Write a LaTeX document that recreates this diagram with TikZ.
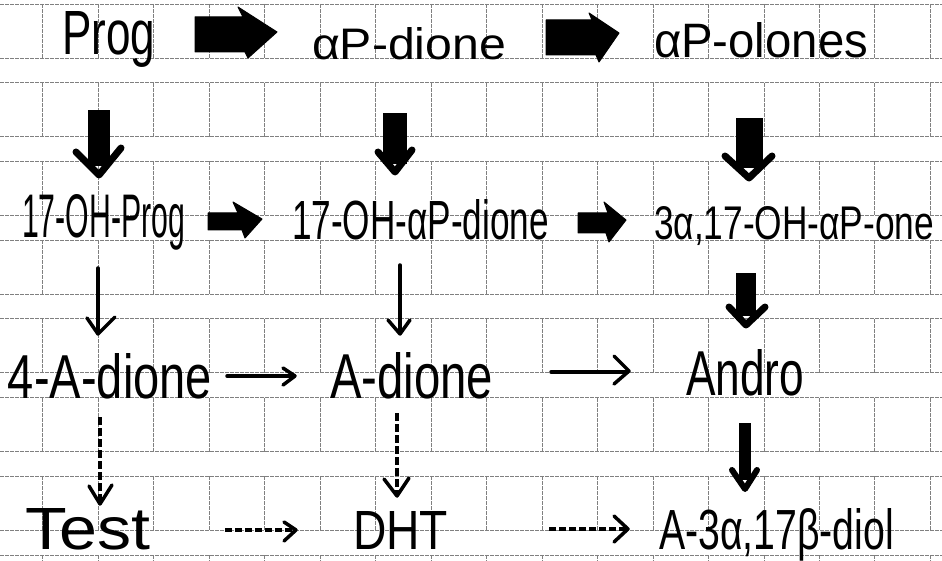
\documentclass[tikz,border=0pt]{standalone}
\usepackage{fontspec}
\usepackage{graphicx}
\setmainfont{Liberation Sans}
\usetikzlibrary{arrows.meta}
\newcommand\fitt[3]{\resizebox{#1pt}{#2pt}{#3}}
\begin{document}
\begin{tikzpicture}[x=1pt,y=-1pt,
  gridline/.style={draw=black!50, line width=0.9pt, dash pattern=on 4pt off 1pt},
  lbl/.style={anchor=base west, inner sep=0pt, outer sep=0pt, text=black},
  blk/.style={fill=black, draw=black, line width=1pt, line join=round},
  thk/.style={draw=black, line width=7pt, line cap=round, line join=round},
  thn/.style={draw=black, line width=3.5pt, line cap=round},
  dsh/.style={draw=black, line width=4pt, dash pattern=on 8pt off 3pt}]
\useasboundingbox (0,0) rectangle (942,561);
\clip (0,0) rectangle (942,561);
\fill[white] (0,0) rectangle (942,561);
% notebook grid
\foreach \k in {0,...,7} {
  \pgfmathsetmacro\ya{4+78.72*\k}
  \pgfmathsetmacro\yb{\ya+54}
  \draw[gridline] (0,\ya) -- (942,\ya);
  \draw[gridline] (0,\yb) -- (942,\yb);
  \foreach \j in {0,...,16} {
    \pgfmathsetmacro\xx{42.7+55.48*\j}
    \draw[gridline] (\xx,\ya) -- (\xx,\yb);
  }
}
% labels
\node[lbl] (prog) at (62,55) {\fitt{93}{43}{Prog}};
\node[lbl] (apd) at (312,60) {\fitt{194}{32}{αP-dione}};
\node[lbl] (apo) at (654,58) {\fitt{214}{35}{αP-olones}};
\node[lbl] (ohp) at (22,238) {\fitt{163}{43}{17-OH-Prog}};
\node[lbl] (ohd) at (292,240) {\fitt{257}{40}{17-OH-αP-dione}};
\node[lbl] (ohone) at (654,240) {\fitt{280}{33}{3α,17-OH-αP-one}};
\node[lbl] (fad) at (8,398) {\fitt{204}{45}{4-A-dione}};
\node[lbl] (ad) at (330,398) {\fitt{163}{46}{A-dione}};
\node[lbl] (andro) at (686,395) {\fitt{118}{46}{Andro}};
\node[lbl] (test) at (25,549) {\fitt{125}{41}{Test}};
\node[lbl] (dht) at (353,549) {\fitt{95}{38}{DHT}};
\node[lbl] (diol) at (659,549) {\fitt{235}{41}{A-3α,17β-diol}};
% block arrows (right)
\filldraw[blk] (195,17) -- (243,17) -- (238,7) -- (277,32) -- (248,58) -- (245,52) -- (195,52) -- cycle;
\filldraw[blk] (546,20) -- (592,20) -- (589,13) -- (619,33) -- (599,62) -- (596,55) -- (546,55) -- cycle;
\filldraw[blk] (208,213) -- (238,213) -- (233,202) -- (262,219) -- (245,238) -- (242,230) -- (208,230) -- cycle;
\filldraw[blk] (578,213) -- (608,213) -- (604,202) -- (626,220) -- (609,242) -- (606,233) -- (578,233) -- cycle;
% thick down arrows
\fill (88,110) rectangle (110,166);
\draw[thk] (76,152) -- (99,175) -- (121,148);
\fill (383,113) rectangle (407,164);
\draw[thk] (378,152) -- (395,172) -- (412,150);
\fill (736,118) rectangle (763,168);
\draw[thk] (725,156) -- (749,178) -- (772,156);
\fill (736,273) rectangle (756,316);
\draw[thk] (729,307) -- (746,325) -- (765,307);
\fill (739,423) rectangle (751,480);
\draw[thk, line width=6pt] (732,470) -- (745,489) -- (757,470);
% thin arrows
\draw[thn] (98,268) -- (98,333);
\draw[thn, line join=round] (87,318) -- (98,334) -- (115,317);
\draw[thn] (400,265) -- (400,333);
\draw[thn, line join=round] (388,320) -- (400,334) -- (410,320);
\draw[thn] (227,376) -- (294,376);
\draw[thn, line join=round] (283,368) -- (295,376) -- (283,385);
\draw[thn] (551,372) -- (627,372);
\draw[thn, line join=round] (614,356) -- (629,371) -- (614,384);
% dashed arrows
\draw[dsh] (100,417) -- (100,502);
\draw[thn, line join=round] (89,486) -- (100,504) -- (112,485);
\draw[dsh] (397,413) -- (397,494);
\draw[thn, line join=round] (384,479) -- (397,496) -- (409,478);
\draw[dsh, line width=3.5pt, dash pattern=on 7pt off 3pt] (225,530) -- (294,530);
\draw[thn, line join=round] (284,522) -- (296,530) -- (284,541);
\draw[dsh, line width=3.5pt, dash pattern=on 7pt off 3pt] (549,529) -- (625,529);
\draw[thn, line join=round] (614,516) -- (628,529) -- (614,542);
\end{tikzpicture}
\end{document}
